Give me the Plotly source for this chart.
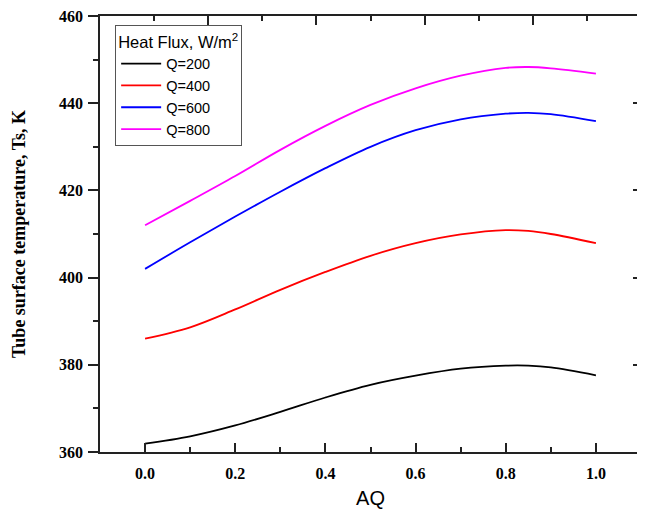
import plotly.graph_objects as go

aq = [0.0, 0.1, 0.2, 0.3, 0.4, 0.5, 0.6, 0.7, 0.8, 0.85, 0.9, 1.0]

q200 = [361.9, 363.6, 366.1, 369.2, 372.5, 375.4, 377.5, 379.1, 379.8, 379.8, 379.4, 377.6]
q400 = [386.0, 388.6, 392.7, 397.2, 401.3, 405.0, 407.9, 409.9, 410.9, 410.7, 410.0, 407.9]
q600 = [402.0, 408.1, 414.0, 419.7, 425.1, 430.0, 433.8, 436.3, 437.6, 437.8, 437.5, 435.9]
q800 = [412.0, 417.6, 423.3, 429.3, 434.8, 439.6, 443.4, 446.3, 448.1, 448.3, 448.0, 446.8]

series_names = ["Q=200", "Q=400", "Q=600", "Q=800"]
colors = ["black", "red", "blue", "magenta"]

AXIS = "#222222"

fig = go.Figure()
for name, vals, color in zip(series_names, [q200, q400, q600, q800], colors):
    fig.add_trace(
        go.Scatter(
            x=aq,
            y=vals,
            mode="lines",
            name=name,
            line=dict(color=color, width=1.8, shape="spline", smoothing=1.0),
        )
    )

# invisible trace so the top / right frame axes get drawn
fig.add_trace(
    go.Scatter(
        x=aq, y=q200, xaxis="x2", yaxis="y2", mode="lines",
        opacity=0, showlegend=False, hoverinfo="skip",
    )
)

tick_font = dict(family="Liberation Serif", size=16, color="black", weight="bold")

# page body has an 8px margin, so the figure is sized to fit the window
fig.update_layout(
    width=637,
    height=504,
    margin=dict(l=92, r=4, t=8, b=60, autoexpand=False),
    plot_bgcolor="white",
    paper_bgcolor="white",
    showlegend=True,
    legend=dict(
        title=dict(
            text="Heat Flux, W/m<sup>2</sup>",
            font=dict(family="Liberation Sans", size=16.5, color="black"),
        ),
        font=dict(family="Liberation Sans", size=14.5, color="black"),
        x=0.028,
        y=0.979,
        xanchor="left",
        yanchor="top",
        bgcolor="white",
        bordercolor="#555555",
        borderwidth=1,
        tracegroupgap=0,
        itemwidth=40,
    ),
    xaxis=dict(
        range=[-0.1, 1.1],
        tickvals=[0.0, 0.2, 0.4, 0.6, 0.8, 1.0],
        ticktext=["0.0", "0.2", "0.4", "0.6", "0.8", "1.0"],
        automargin=False,
        showline=True,
        linecolor=AXIS,
        linewidth=1.5,
        ticks="inside",
        ticklen=9,
        tickwidth=1.5,
        tickcolor=AXIS,
        ticklabelstandoff=6,
        ticklabeloverflow="allow",
        showgrid=False,
        zeroline=False,
        tickfont=tick_font,
        minor=dict(ticks="inside", ticklen=5, tickwidth=1.5, tickcolor=AXIS, dtick=0.1, tick0=0, showgrid=False),
        title=dict(text="AQ", font=dict(family="Liberation Sans", size=20, color="black"), standoff=10),
    ),
    xaxis2=dict(
        overlaying="x",
        side="top",
        anchor="y",
        range=[0, 1],
        dtick=0.2,
        automargin=False,
        showline=True,
        linecolor=AXIS,
        linewidth=1.5,
        ticks="inside",
        ticklen=9,
        tickwidth=1.5,
        tickcolor=AXIS,
        showticklabels=False,
        showgrid=False,
        zeroline=False,
        minor=dict(ticks="inside", ticklen=5, tickwidth=1.5, tickcolor=AXIS, dtick=0.1, showgrid=False),
    ),
    yaxis=dict(
        range=[360, 460],
        dtick=20,
        automargin=False,
        showline=True,
        linecolor=AXIS,
        linewidth=1.5,
        ticks="outside",
        ticklen=10,
        tickwidth=1.5,
        tickcolor=AXIS,
        ticklabelstandoff=2,
        ticklabeloverflow="allow",
        showgrid=False,
        zeroline=False,
        tickfont=tick_font,
        minor=dict(ticks="outside", ticklen=5, tickwidth=1.5, tickcolor=AXIS, dtick=10, showgrid=False),
        title=dict(
            text="Tube surface temperature, Ts, K",
            font=dict(family="Liberation Serif", size=18, color="black", weight="bold"),
            standoff=29,
        ),
    ),
    yaxis2=dict(
        overlaying="y",
        side="right",
        anchor="x",
        range=[360, 460],
        dtick=20,
        automargin=False,
        showline=True,
        linecolor=AXIS,
        linewidth=1.5,
        ticks="inside",
        ticklen=8,
        tickwidth=1.5,
        tickcolor=AXIS,
        showticklabels=False,
        showgrid=False,
        zeroline=False,
        minor=dict(ticks="inside", ticklen=4, tickwidth=1.5, tickcolor=AXIS, dtick=10, showgrid=False),
    ),
)

fig.write_html("out.html")
